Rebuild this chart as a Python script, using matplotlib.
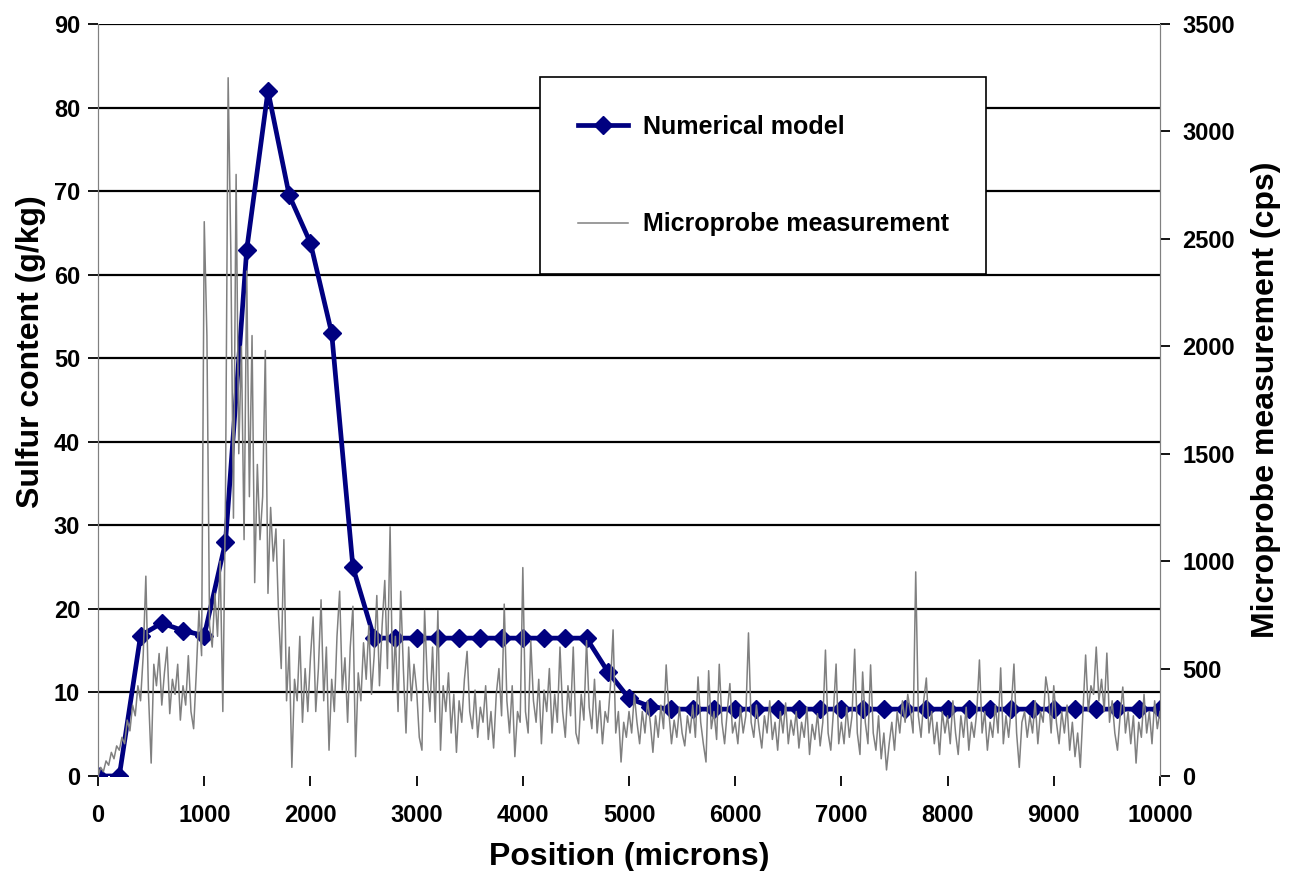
"""Sulfur profile: numerical model vs. microprobe trace."""
import numpy as np
import matplotlib
matplotlib.use("Agg")
import matplotlib.pyplot as plt

plt.rcParams["font.family"] = ["Liberation Sans", "DejaVu Sans"]
plt.rcParams["font.weight"] = "bold"

# model output, every 200 microns (g/kg)
model_pos = list(range(0, 10001, 200))
model_s = [0, 0, 16.8, 18.3, 17.4, 16.8, 28, 63, 82, 69.5, 63.8, 53, 25,
           16.5, 16.5, 16.5, 16.5, 16.5, 16.5, 16.5, 16.5, 16.5, 16.5, 16.5,
           12.5, 9.3, 8.3, 8, 8, 8, 8, 8, 8, 8, 8, 8, 8, 8, 8, 8, 8, 8, 8,
           8, 8, 8, 8, 8, 8, 8, 8]

# microprobe counts, every 25 microns (cps)
probe_cps = [
    # 0 - 975
    0, 40, 20, 70, 50, 110, 80, 140, 120, 180, 150, 260, 210, 330, 280, 420,
    350, 560, 930, 380, 60, 520, 420, 570, 330, 480, 600, 290, 450, 380,
    520, 260, 420, 330, 560, 300, 220, 480, 770, 560,
    # 1000 - 1975
    2580, 2050, 700, 600, 850, 650, 1000, 300, 1300, 3250, 2450, 1200, 2800,
    1500, 2000, 1100, 2350, 1300, 2050, 900, 1450, 1100, 1300, 1980, 850,
    1250, 1000, 1150, 750, 500, 1100, 350, 600, 40, 450, 350, 650, 250, 500,
    300,
    # 2000 - 2975
    550, 740, 300, 500, 820, 350, 600, 120, 450, 300, 650, 860, 400, 550,
    250, 600, 790, 90, 480, 350, 620, 450, 700, 380, 560, 840, 420, 700, 910,
    500, 1160, 400, 650, 300, 860, 500, 200, 600, 350, 520,
    # 3000 - 3975
    400, 180, 120, 770, 450, 300, 600, 250, 770, 120, 420, 300, 480, 200,
    380, 110, 350, 250, 450, 580, 300, 220, 400, 180, 320, 250, 420, 170,
    300, 130, 380, 500, 280, 800, 350, 200, 420, 90, 300, 250,
    # 4000 - 4975
    970, 300, 200, 630, 350, 250, 450, 150, 400, 300, 500, 200, 380, 250,
    600, 300, 180, 420, 280, 600, 200, 150, 380, 260, 630, 320, 220, 450,
    200, 350, 150, 300, 250, 420, 680, 200, 300, 65, 250, 180,
    # 5000 - 5975
    300, 200, 380, 250, 150, 300, 200, 350, 250, 110, 280, 180, 330, 220,
    517, 300, 150, 260, 180, 320, 200, 140, 280, 200, 330, 180, 461, 250,
    150, 65, 490, 220, 300, 170, 520, 250, 150, 300, 430, 200,
    # 6000 - 6975
    250, 150, 320, 200, 280, 666, 250, 180, 330, 220, 130, 280, 200, 350,
    170, 250, 120, 300, 200, 340, 150, 260, 190, 300, 130, 250, 180, 320,
    100, 240, 170, 290, 140, 250, 586, 200, 120, 300, 521, 150,
    # 7000 - 7975
    250, 150, 320, 180, 280, 590, 200, 100, 484, 250, 150, 517, 200, 120,
    280, 80, 200, 28, 150, 250, 120, 300, 200, 350, 250, 380, 300, 200, 950,
    280, 180, 350, 456, 200, 300, 150, 250, 100, 300, 200,
    # 8000 - 8975
    280, 150, 350, 200, 100, 280, 180, 320, 120, 250, 180, 300, 540, 200,
    300, 120, 250, 180, 330, 200, 503, 150, 280, 180, 320, 521, 200, 40, 250,
    300, 180, 280, 200, 350, 150, 300, 250, 461, 380, 200,
    # 9000 - 10000
    420, 250, 150, 300, 200, 330, 120, 250, 90, 200, 40, 300, 563, 300, 420,
    380, 600, 350, 450, 300, 572, 250, 350, 200, 120, 280, 414, 200, 300,
    150, 280, 60, 250, 180, 380, 200, 300, 150, 350, 220, 300,
]
probe_pos = np.arange(len(probe_cps)) * 25

left_ticks = list(range(0, 91, 10))
right_ticks = list(range(0, 3501, 500))
x_ticks = list(range(0, 10001, 1000))

fig = plt.figure(figsize=(12.92, 8.71), dpi=100)
ax = fig.add_axes([0.0759, 0.1091, 0.8219, 0.8633])
ax2 = ax.twinx()

for y in left_ticks[1:]:
    ax.axhline(y, color="black", lw=1.6, zorder=0)

ln_model, = ax.plot(model_pos, model_s, color="#000080", lw=3.4,
                    marker="D", markersize=9.5, zorder=3)
ln_probe, = ax2.plot(probe_pos, probe_cps, color="#808080", lw=1.1)

ax.set_xlim(0, 10000)
ax.set_ylim(0, 90)
ax2.set_ylim(0, 3500)
ax.set_xticks(x_ticks)
ax.set_yticks(left_ticks)
ax2.set_yticks(right_ticks)

for a in (ax, ax2):
    a.spines["top"].set_visible(False)
    a.spines["bottom"].set_visible(False)
    a.spines["left"].set_color("#808080")
    a.spines["right"].set_color("#808080")
    a.tick_params(labelsize=17, length=7, width=1.3, color="black")
ax.tick_params(axis="x", pad=13)
ax.tick_params(axis="y", pad=6)
ax2.tick_params(axis="y", pad=9)

ax.set_xlabel("Position (microns)", fontsize=23, fontweight="bold")
ax.set_ylabel("Sulfur content (g/kg)", fontsize=23, fontweight="bold")
ax2.set_ylabel("Microprobe measurement (cps)", fontsize=23, fontweight="bold")
ax.xaxis.set_label_coords(0.5, -0.088)
ax.yaxis.set_label_coords(-0.049, 0.564)
ax2.yaxis.set_label_coords(1.086, 0.5)

leg = ax2.legend([ln_model, ln_probe], ["Numerical model", "Microprobe measurement"],
                 loc="upper left", bbox_to_anchor=(0.4162, 0.9295),
                 fontsize=18, frameon=True, fancybox=False, framealpha=1,
                 edgecolor="black", borderpad=1.5, labelspacing=2.95,
                 handlelength=2.0, handletextpad=0.6, borderaxespad=0)
leg.get_frame().set_linewidth(1.2)
for t in leg.get_texts():
    t.set_fontweight("bold")

fig.savefig("out.png", dpi=100)
